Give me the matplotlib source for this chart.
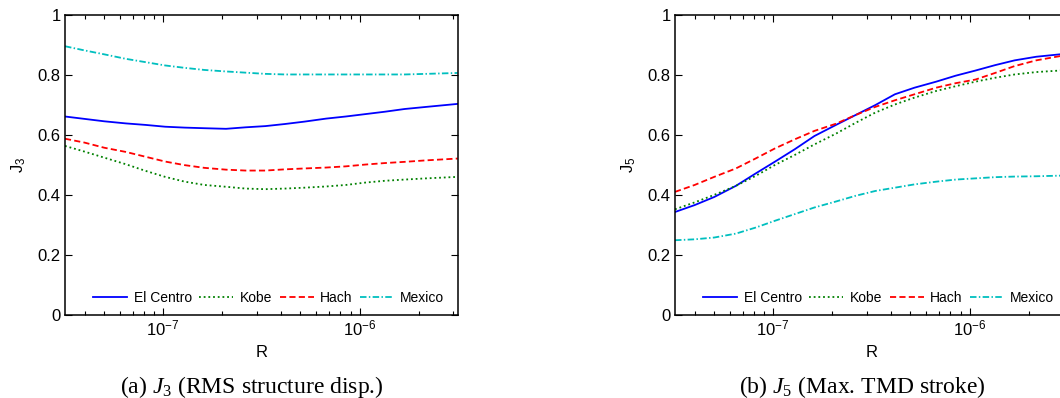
import matplotlib
matplotlib.use("Agg")
import matplotlib.pyplot as plt
import numpy as np
from matplotlib.ticker import LogLocator, NullFormatter, FixedLocator

plt.rcParams['font.family'] = ['Liberation Sans', 'DejaVu Sans']
plt.rcParams['mathtext.fontset'] = 'custom'
plt.rcParams['mathtext.rm'] = 'Liberation Serif'
plt.rcParams['mathtext.it'] = 'Liberation Serif:italic'

# ---- data ----
series_names = ["El Centro", "Kobe", "Hach", "Mexico"]

# log10(R) sample positions
logR_a = [-7.50, -7.40, -7.30, -7.19, -7.09, -6.99, -6.89, -6.79, -6.68, -6.58,
          -6.48, -6.38, -6.28, -6.17, -6.07, -5.97, -5.87, -5.77, -5.66, -5.50]
J3_elcentro = [0.661, 0.653, 0.645, 0.638, 0.633, 0.627, 0.624, 0.622, 0.620, 0.625,
               0.629, 0.636, 0.644, 0.654, 0.661, 0.669, 0.677, 0.686, 0.693, 0.703]
J3_kobe = [0.563, 0.544, 0.524, 0.502, 0.480, 0.460, 0.444, 0.433, 0.427, 0.421,
           0.419, 0.421, 0.424, 0.428, 0.433, 0.441, 0.447, 0.451, 0.455, 0.460]
J3_hach = [0.587, 0.574, 0.557, 0.543, 0.527, 0.511, 0.499, 0.490, 0.484, 0.481,
           0.481, 0.485, 0.488, 0.491, 0.495, 0.501, 0.506, 0.510, 0.515, 0.521]
J3_mexico = [0.895, 0.881, 0.868, 0.853, 0.842, 0.831, 0.823, 0.816, 0.811, 0.807,
             0.803, 0.801, 0.801, 0.801, 0.801, 0.801, 0.801, 0.801, 0.803, 0.806]

logR_b = [-7.50, -7.40, -7.30, -7.19, -7.09, -6.99, -6.89, -6.79, -6.68, -6.58,
          -6.48, -6.38, -6.28, -6.17, -6.07, -5.97, -5.87, -5.77, -5.66, -5.54, -5.50]
J5_elcentro = [0.343, 0.366, 0.393, 0.430, 0.471, 0.511, 0.552, 0.596, 0.633, 0.666,
               0.699, 0.735, 0.757, 0.777, 0.797, 0.814, 0.832, 0.848, 0.860, 0.868, 0.871]
J5_kobe = [0.352, 0.375, 0.400, 0.430, 0.463, 0.500, 0.533, 0.568, 0.604, 0.640,
           0.674, 0.701, 0.724, 0.746, 0.762, 0.777, 0.790, 0.801, 0.809, 0.814, 0.817]
J5_hach = [0.410, 0.433, 0.460, 0.488, 0.521, 0.555, 0.585, 0.613, 0.637, 0.666,
           0.693, 0.715, 0.735, 0.757, 0.772, 0.784, 0.806, 0.829, 0.848, 0.862, 0.868]
J5_mexico = [0.249, 0.252, 0.258, 0.271, 0.291, 0.314, 0.336, 0.358, 0.378, 0.397,
             0.413, 0.424, 0.435, 0.444, 0.451, 0.455, 0.459, 0.461, 0.462, 0.464, 0.465]

y_ticks = [0, 0.2, 0.4, 0.6, 0.8, 1.0]
y_ticklabels = ["0", "0.2", "0.4", "0.6", "0.8", "1"]
x_ticks = [1e-7, 1e-6]
x_ticklabels = [r"$\mathregular{10^{-7}}$", r"$\mathregular{10^{-6}}$"]
captions = [r"(a) $J_3$ (RMS structure disp.)", r"(b) $J_5$ (Max. TMD stroke)"]
ylabels = [r"$\mathregular{J_3}$", r"$\mathregular{J_5}$"]

colors = [(0, 0, 1), (0, 0.5, 0), (1, 0, 0), (0, 0.75, 0.75)]
styles = ['-', (0, (1, 1.6)), (0, (3.4, 1.8)), (0, (3.6, 1.3, 0.8, 1.3))]

W, H = 1060, 398
fig = plt.figure(figsize=(W / 100, H / 100), dpi=100)

ax_w, ax_h = 392.7, 300.3
ax_bottom = 315.0
lefts = [65.0, 675.0]
datasets = [(logR_a, [J3_elcentro, J3_kobe, J3_hach, J3_mexico]),
            (logR_b, [J5_elcentro, J5_kobe, J5_hach, J5_mexico])]

for i in range(2):
    ax = fig.add_axes([lefts[i] / W, (H - ax_bottom) / H, ax_w / W, ax_h / H])
    lr, ys = datasets[i]
    R = 10.0 ** np.array(lr)
    for name, y, c, ls in zip(series_names, ys, colors, styles):
        ax.plot(R, y, color=c, linestyle=ls, lw=1.3, label=name)
    ax.set_xscale('log')
    ax.set_xlim(10 ** -7.5, 10 ** -5.5)
    ax.set_ylim(0, 1)
    ax.xaxis.set_major_locator(FixedLocator(x_ticks))
    ax.xaxis.set_minor_locator(LogLocator(base=10, subs=np.arange(2, 10), numticks=20))
    ax.xaxis.set_minor_formatter(NullFormatter())
    ax.set_xticklabels(x_ticklabels)
    ax.set_yticks(y_ticks)
    ax.set_yticklabels(y_ticklabels)
    ax.tick_params(which='both', direction='in', top=True, right=True,
                   labelsize=12, width=0.8, colors='black')
    ax.tick_params(which='major', length=5)
    ax.tick_params(which='minor', length=3)
    ax.tick_params(axis='x', pad=2.5)
    ax.tick_params(axis='y', pad=3)
    for sp in ax.spines.values():
        sp.set_linewidth(1.1)
    ax.set_xlabel("R", fontsize=12, labelpad=5)
    ax.set_ylabel(ylabels[i], fontsize=12, labelpad=7)
    ax.legend(loc='center', bbox_to_anchor=(0.519, 0.057), ncol=4, frameon=False,
              fontsize=10, handlelength=2.45, handletextpad=0.45, columnspacing=0.55,
              borderaxespad=0, borderpad=0)
    fig.text((lefts[i] + ax_w / 2 - 9) / W, 1 - 393 / H, captions[i],
             ha='center', va='baseline', fontsize=17, family='Liberation Serif')

fig.savefig("out.png", dpi=100)
